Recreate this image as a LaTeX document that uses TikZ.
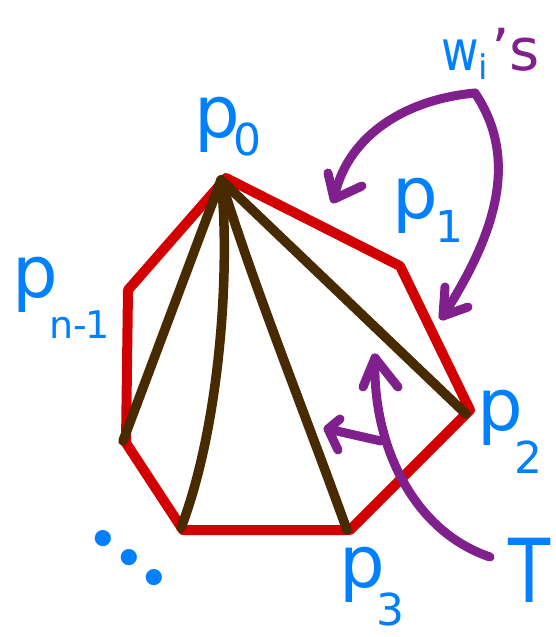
\documentclass[tikz,border=0pt]{standalone}
\usepackage{fontspec}
\setmainfont{DejaVu Sans}
\newfontfamily\lmfont{Latin Modern Roman}
\definecolor{hblue}{RGB}{0,128,255}
\definecolor{hred}{RGB}{210,0,0}
\definecolor{hbrown}{RGB}{72,42,0}
\definecolor{hpurple}{RGB}{128,32,140}
\newcommand\plabel[3]{{\fontsize{72}{72}\selectfont #1}\raisebox{-#2pt}{\fontsize{44}{44}\selectfont #3}}
\begin{document}
\begin{tikzpicture}[x=1pt,y=-1pt,
  redline/.style={draw=hred,line width=10pt,line cap=round,line join=round},
  brownline/.style={draw=hbrown,line width=9.5pt,line cap=round,line join=round},
  purpline/.style={draw=hpurple,line width=9pt,line cap=round,line join=round},
  lab/.style={text=hblue,inner sep=0pt,anchor=base west}]
\useasboundingbox (0,0) rectangle (555,637);
% polygon vertices
\coordinate (v0) at (226,178);
\coordinate (v1) at (400,266);
\coordinate (v2) at (470,410);
\coordinate (v3) at (350,530);
\coordinate (v4) at (183,530);
\coordinate (v5) at (126,443);
\coordinate (v6) at (128,290);
% diagonal end points
\coordinate (d0) at (221,180);
\coordinate (d2) at (466,414);
\coordinate (d3) at (347,530);
\coordinate (d4) at (181,528);
\coordinate (d5) at (123,441);
\draw[redline] (v0) -- (v1) -- (v2) -- (v3) -- (v4) -- (v5) -- (v6) -- cycle;
\draw[brownline] (d0) -- (d5);
\draw[brownline] (d0) .. controls (230,260) and (222,420) .. (d4);
\draw[brownline] (d0) .. controls (255,290) and (300,400) .. (d3);
\draw[brownline] (d0) -- (d2);
% purple arrows
\coordinate (ws) at (475,93);
\coordinate (wt1) at (334,199);
\coordinate (wt2) at (443,316);
\draw[purpline] (ws) .. controls (400,100) and (345,140) .. (wt1);
\draw[purpline] (328,173) -- (wt1) -- (362,186);
\draw[purpline] (ws) .. controls (520,160) and (495,235) .. (wt2);
\draw[purpline] (445,287) -- (wt2) -- (468,307);
\coordinate (ts) at (490,557);
\coordinate (tt) at (375,358);
\draw[purpline] (ts) .. controls (410,530) and (372,440) .. (tt);
\draw[purpline] (363,387) -- (tt) -- (398,387);
\coordinate (ss) at (381,441);
\coordinate (st) at (328,429);
\draw[purpline] (ss) -- (st);
\draw[purpline] (340,419) -- (st) -- (338,450);
% labels
\node[lab] (lp0) at (194,137) {\plabel{p}{18}{\kern-6pt 0}};
\node[lab] (lp1) at (392,218) {\plabel{p}{24}{\kern-2pt 1}};
\node[lab] (lp2) at (477,430) {\plabel{p}{43}{\kern-8pt 2}};
\node[lab] (lp3) at (339,587) {\plabel{p}{38}{\kern-8pt 3}};
\node[lab] (lpn) at (12,297) {{\fontsize{72}{72}\selectfont p}\raisebox{-41pt}{\fontsize{38}{38}\selectfont\kern-8pt n\kern-1pt-\kern-1pt1}};
\node[lab] (lT) at (508,602) {\fontsize{84}{84}\selectfont\scalebox{0.82}[1.05]{T}};
\node[lab] (lw) at (441,70) {\scalebox{0.82}[1]{\fontsize{56}{56}\selectfont w}\raisebox{-9pt}{\fontsize{34}{34}\selectfont i}\kern3pt\textcolor{hpurple}{\fontsize{58}{58}\selectfont 's}};
\node[text=hblue,inner sep=0pt,rotate=-37] (dots) at (129,558) {\fontsize{112}{112}\selectfont\lmfont\bfseries .\kern-3pt.\kern-3pt.};
\end{tikzpicture}
\end{document}
